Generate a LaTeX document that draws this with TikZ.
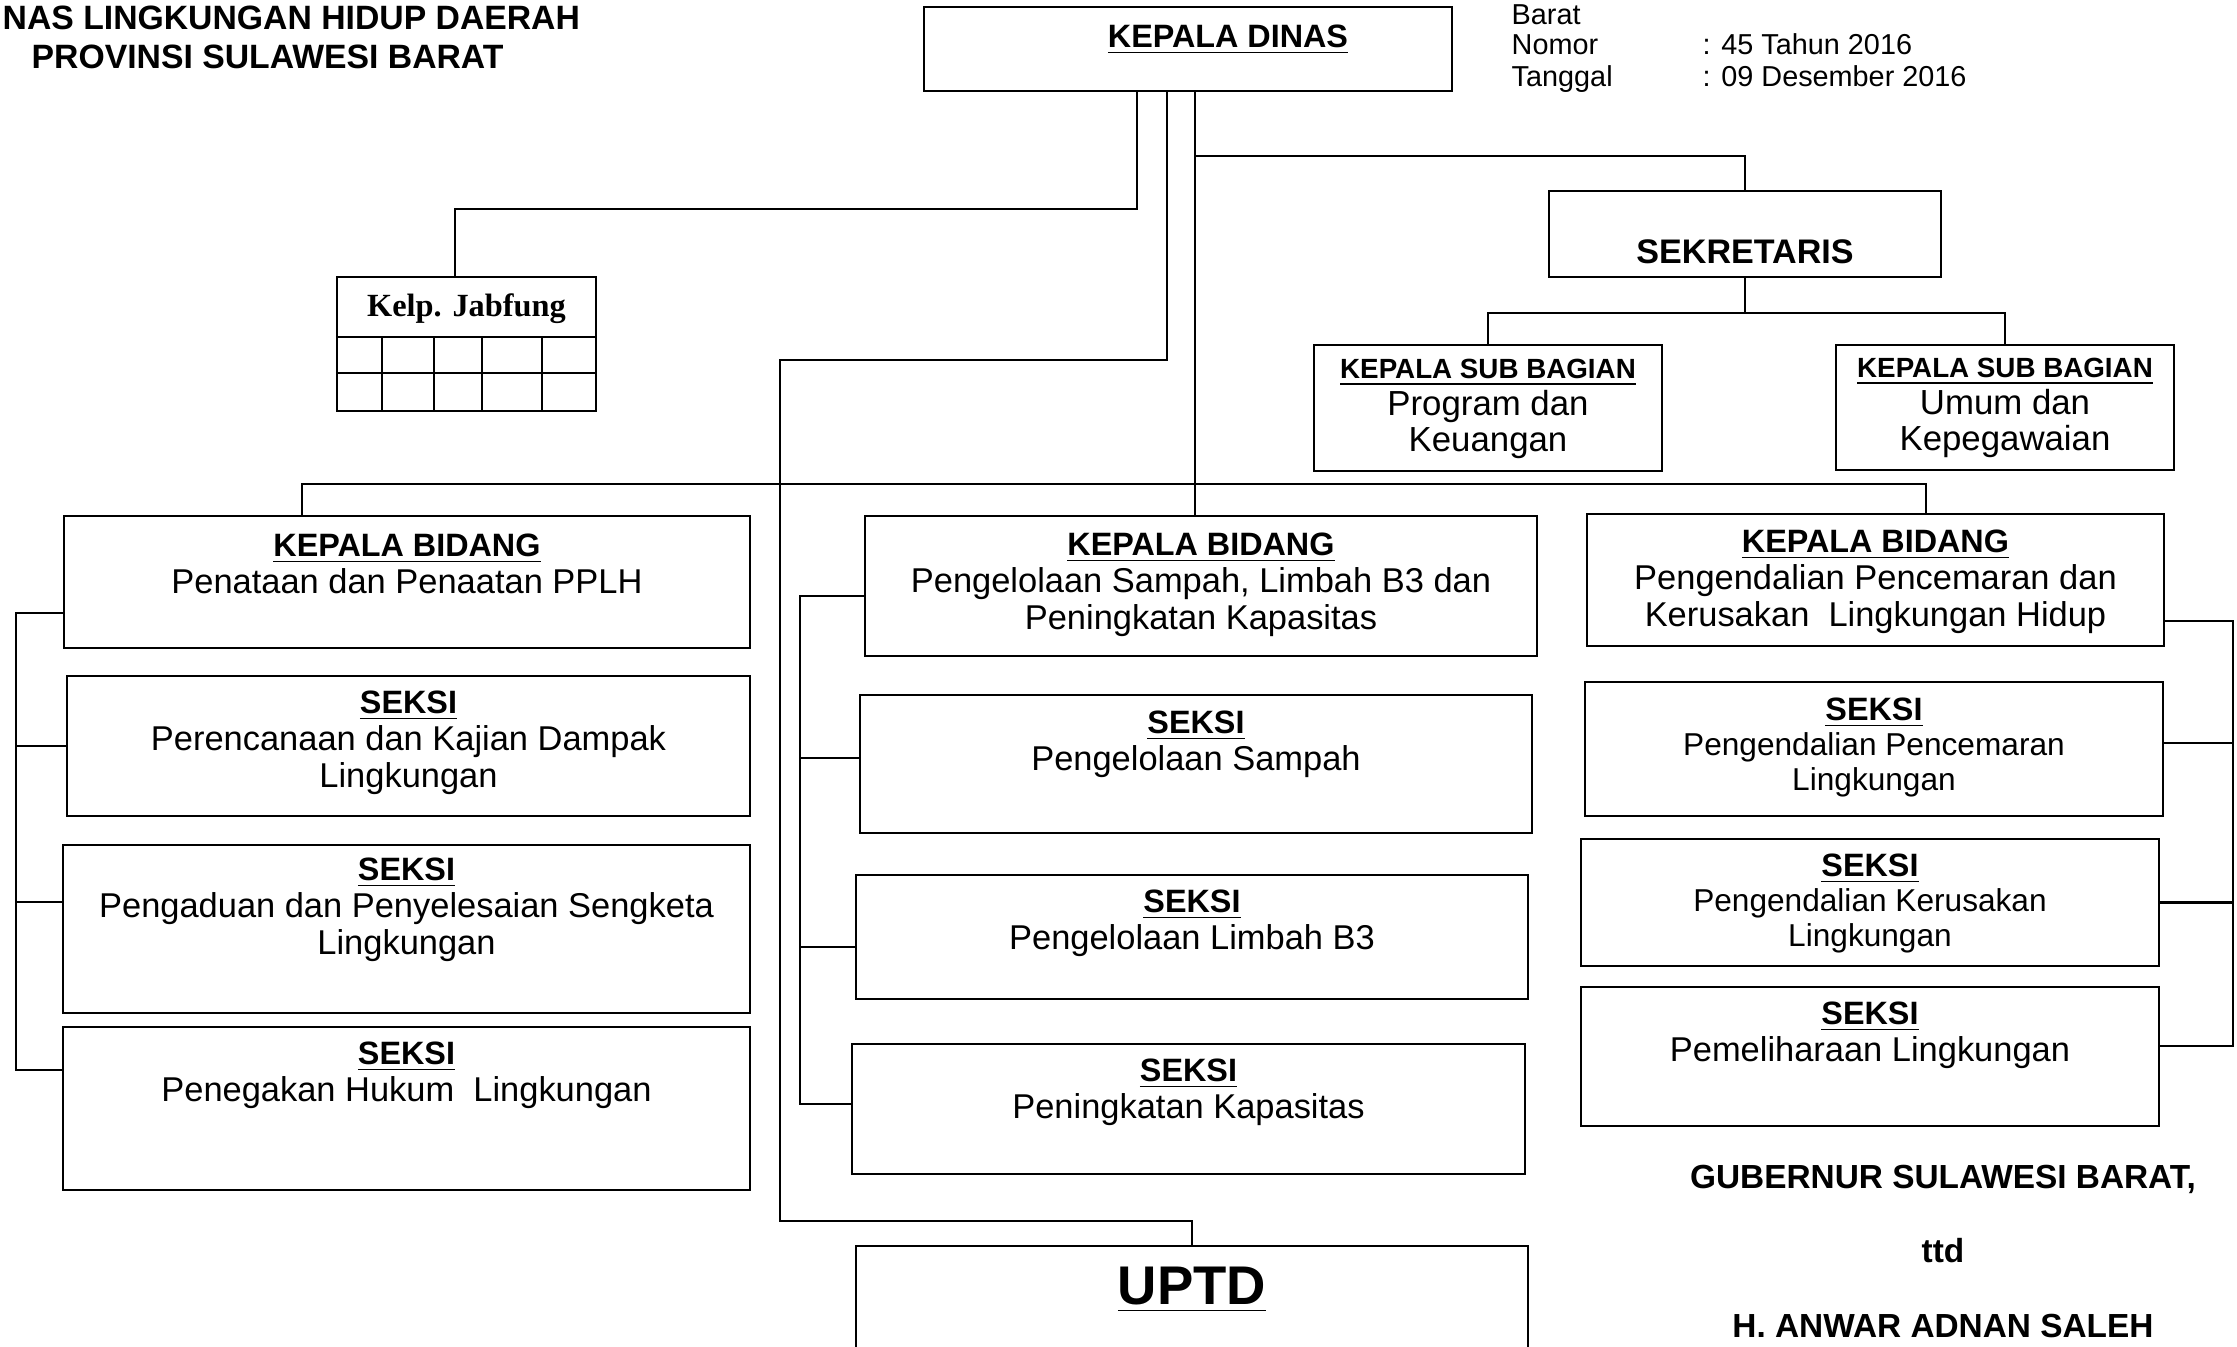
\documentclass[tikz,border=0pt]{standalone}
\usepackage{fontspec}
\setmainfont{Liberation Sans}
\newfontfamily\serifbf{Liberation Serif}
\usetikzlibrary{positioning}

\newcommand\bodyfnt{\fontsize{9.8}{10.6}\selectfont}
\newcommand\smallfnt{\fontsize{9}{10}\selectfont}
\newcommand\ttl[1]{{\fontsize{9.2}{10.6}\selectfont\bfseries\underline{#1}}}
\newcommand\subttl[1]{{\fontsize{7.9}{10.4}\selectfont\bfseries\underline{#1}}}

\begin{document}
\begin{tikzpicture}[
    x=0.1mm, y=-0.1mm,
    box/.style 2 args={draw, line width=0.7pt, minimum width=#1*0.1mm, minimum height=#2*0.1mm, inner sep=0pt}, % kotak jabatan
    txt/.style={inner sep=0pt, align=center, font=\bodyfnt},
    conn/.style={line width=0.6pt},
    head/.style={inner sep=0pt, font=\fontsize{9.6}{11}\selectfont\bfseries},
    meta/.style={inner sep=0pt, font=\fontsize{8.2}{10}\selectfont},
    sign/.style={inner sep=0pt, align=center, font=\fontsize{9.5}{21.3}\selectfont\bfseries},
    jabtxt/.style={inner sep=0pt, font={\fontsize{9.2}{11}\selectfont\serifbf\bfseries}}
]
\useasboundingbox (0,0) rectangle (2237,1346);

% Kepala halaman
\node[head, anchor=base west] (hdr1) at (2,29) {NAS LINGKUNGAN HIDUP DAERAH};
\node[head, anchor=base west] (hdr2) at (31,68) {PROVINSI SULAWESI BARAT};

\node[meta, anchor=base west] (barat) at (1511,24) {Barat};
\node[meta, anchor=base west] (nomor) at (1511,54) {Nomor};
\node[meta, anchor=base west] (tgl)   at (1511,86) {Tanggal};
\node[meta, anchor=base west] (nomorv) at (1702,54) {: 45 Tahun 2016};
\node[meta, anchor=base west] (tglv)   at (1702,86) {: 09 Desember 2016};

% Pimpinan
\node[box={528}{84}] (dinas) at (1188,49) {};
\node[txt, below=1.8mm of dinas.north, xshift=4mm] (dinast) {\ttl{KEPALA DINAS}};

\node[box={392}{86}] (sekr) at (1745,234) {};
\node[txt, below=4.9mm of sekr.north, font=\fontsize{9.7}{11}\selectfont\bfseries] (sekrt) {SEKRETARIS};

\node[box={348}{126}] (subA) at (1488,408) {};
\node[txt, below=1.5mm of subA.north, font=\fontsize{9.9}{10.4}\selectfont] (subAt) {\subttl{KEPALA SUB BAGIAN}\\Program dan\\Keuangan};
\node[box={338}{125}] (subB) at (2005,407.5) {};
\node[txt, below=1.4mm of subB.north, font=\fontsize{9.9}{10.4}\selectfont] (subBt) {\subttl{KEPALA SUB BAGIAN}\\Umum dan\\Kepegawaian};

% Kelompok jabatan fungsional
\node[box={259}{134}] (jab) at (466.5,344) {};
\node[jabtxt, anchor=base] (jabt) at ([yshift=-4.1mm]jab.north) {Kelp. Jabfung};
\draw[conn] ([yshift=-6.1mm]jab.north west) -- ([yshift=-6.1mm]jab.north east);
\draw[conn] ([yshift=-9.7mm]jab.north west) -- ([yshift=-9.7mm]jab.north east);
\foreach \cx in {46,98,146,206}
    \draw[conn] ([xshift=\cx*0.1mm, yshift=-6.1mm]jab.north west) -- ([xshift=\cx*0.1mm]jab.south west);

% Bidang kiri
\node[box={686}{132}] (bidL) at (407,582) {};
\node[txt, below=1.8mm of bidL.north] (bidLt) {\ttl{KEPALA BIDANG}\\Penataan dan Penaatan PPLH};
\node[box={683}{140}] (sekL1) at (408.5,746) {};
\node[txt, below=1.5mm of sekL1.north] (sekL1t) {\ttl{SEKSI}\\Perencanaan dan Kajian Dampak\\Lingkungan};
\node[box={687}{168}] (sekL2) at (406.5,929) {};
\node[txt, below=1.3mm of sekL2.north] (sekL2t) {\ttl{SEKSI}\\Pengaduan dan Penyelesaian Sengketa\\Lingkungan};
\node[box={687}{163}] (sekL3) at (406.5,1108.5) {};
\node[txt, below=1.5mm of sekL3.north] (sekL3t) {\ttl{SEKSI}\\Penegakan Hukum\ \ Lingkungan};

% Bidang tengah
\node[box={672}{140}] (bidM) at (1201,586) {};
\node[txt, below=1.7mm of bidM.north] (bidMt) {\ttl{KEPALA BIDANG}\\Pengelolaan Sampah, Limbah B3 dan\\Peningkatan Kapasitas};
\node[box={672}{138}] (sekM1) at (1196,764) {};
\node[txt, below=1.6mm of sekM1.north] (sekM1t) {\ttl{SEKSI}\\Pengelolaan Sampah};
\node[box={672}{124}] (sekM2) at (1192,937) {};
\node[txt, below=1.5mm of sekM2.north] (sekM2t) {\ttl{SEKSI}\\Pengelolaan Limbah B3};
\node[box={673}{130}] (sekM3) at (1188.5,1109) {};
\node[txt, below=1.5mm of sekM3.north] (sekM3t) {\ttl{SEKSI}\\Peningkatan Kapasitas};

% Bidang kanan
\node[box={577}{132}] (bidR) at (1875.5,580) {};
\node[txt, below=1.6mm of bidR.north] (bidRt) {\ttl{KEPALA BIDANG}\\Pengendalian Pencemaran dan\\Kerusakan\ \ Lingkungan Hidup};
\node[box={578}{134}] (sekR1) at (1874,749) {};
\node[txt, below=1.6mm of sekR1.north, font=\smallfnt] (sekR1t) {\ttl{SEKSI}\\Pengendalian Pencemaran\\Lingkungan};
\node[box={578}{127}] (sekR2) at (1870,902.5) {};
\node[txt, below=1.5mm of sekR2.north, font=\smallfnt] (sekR2t) {\ttl{SEKSI}\\Pengendalian Kerusakan\\Lingkungan};
\node[box={578}{139}] (sekR3) at (1870,1056.5) {};
\node[txt, below=1.5mm of sekR3.north] (sekR3t) {\ttl{SEKSI}\\Pemeliharaan Lingkungan};

% UPTD
\node[box={672}{106}] (uptd) at (1192,1299) {};
\node[txt, below=2.2mm of uptd.north, font=\fontsize{15.5}{18}\selectfont\bfseries] (uptdt) {\underline{UPTD}};

% Pengesahan
\node[sign, anchor=north] (gub) at (1943,1164) {GUBERNUR SULAWESI BARAT,\\ttd\\H. ANWAR ADNAN SALEH};

% Garis dari Kepala Dinas
\draw[conn] ([xshift=-5.1mm]dinas.south) -- ++(0,117) -| ([xshift=-1.15mm]jab.north);
\draw[conn] ([xshift=-2.1mm]dinas.south) -- ++(0,268) -| ++(-387,861) -| (uptd.north);
\draw[conn] ([xshift=0.7mm]dinas.south) -- ([xshift=0.7mm]dinas.south |- bidM.north);
\draw[conn] ([xshift=0.7mm, yshift=-6.4mm]dinas.south) -| (sekr.north);
\draw[conn] ([xshift=-10.5mm]bidL.north) -- ++(0,-31) -| ([xshift=5.05mm]bidR.north);

% Sekretaris ke Kasubag
\draw[conn] (sekr.south) -- ++(0,35) coordinate (sekj) -| (subA.north);
\draw[conn] (sekj) -| (subB.north);

% Garis seksi kiri
\draw[conn] ([yshift=-3.1mm]bidL.west) -- ++(-47,0) |- ([yshift=3.85mm]sekL3.west);
\draw[conn] (sekL1.west) -- ++(-50,0);
\draw[conn] ([yshift=2.7mm]sekL2.west) -- ++(-46,0);

% Garis seksi tengah
\draw[conn] ([yshift=-1mm]bidM.west) -- ++(-64,0) |- ([yshift=0.5mm]sekM3.west);
\draw[conn] ([yshift=0.6mm]sekM1.west) -- ++(-59,0);
\draw[conn] ([yshift=-1mm]sekM2.west) -- ++(-55,0);

% Garis seksi kanan
\draw[conn] ([yshift=-4.1mm]bidR.east) -- ++(68,0) |- ([yshift=1.05mm]sekR3.east);
\draw[conn] ([yshift=0.6mm]sekR1.east) -- ++(69,0);
\draw[conn] (sekR2.east) -- ++(73,0);

\end{tikzpicture}
\end{document}
